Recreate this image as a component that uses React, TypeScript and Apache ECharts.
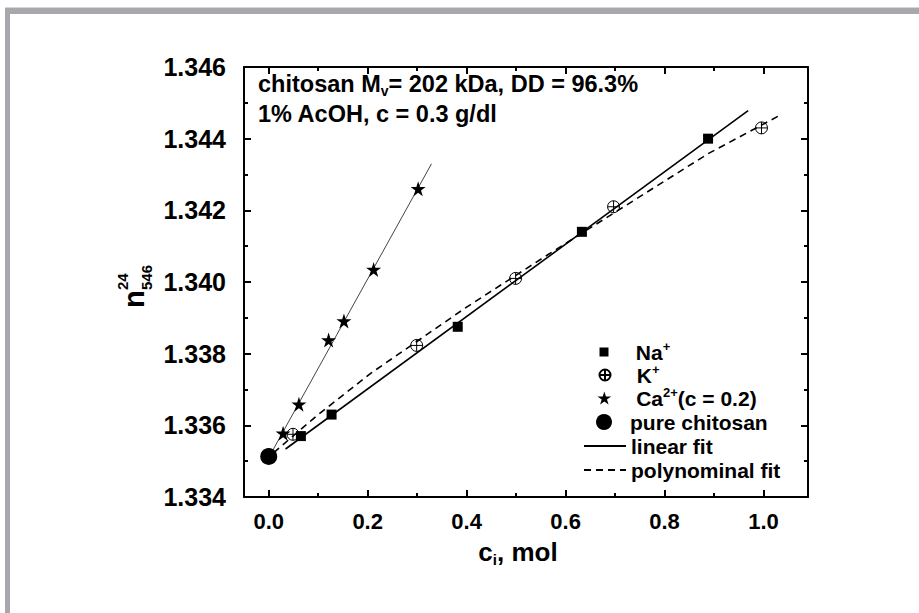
import React, { useEffect, useRef } from 'react';
import * as echarts from 'echarts';

const FONT = "'Liberation Sans', Arial, Helvetica, sans-serif";

// ---- data ----
const naX = [0.065, 0.127, 0.382, 0.633, 0.888];
const naY = [1.3357, 1.3363, 1.33875, 1.3414, 1.344];
const kX = [0.049, 0.299, 0.499, 0.697, 0.996];
const kY = [1.33575, 1.33823, 1.3401, 1.3421, 1.3443];
const caX = [0.029, 0.061, 0.121, 0.152, 0.212, 0.302];
const caY = [1.33578, 1.33659, 1.33838, 1.33891, 1.34035, 1.3426];
const pureX = [0];
const pureY = [1.33513];
const linearFitX = [0.034, 0.969];
const linearFitY = [1.33534, 1.34478];
const caFitX = [0.006, 0.329];
const caFitY = [1.33525, 1.3433];
const polyFitX = [0.01, 0.1, 0.206, 0.4, 0.564, 0.697, 0.888, 1.03];
const polyFitY = [1.33524, 1.3363, 1.33745, 1.3393, 1.34076, 1.34192, 1.34358, 1.34463];

const xMin = -0.05;
const xMax = 1.09;
const yMin = 1.334;
const yMax = 1.346;
const xMajorTicks = [0, 0.2, 0.4, 0.6, 0.8, 1.0];
const xMinorTicks = [0.1, 0.3, 0.5, 0.7, 0.9];
const yMajorTicks = [1.334, 1.336, 1.338, 1.34, 1.342, 1.344, 1.346];
const yMinorTicks = [1.335, 1.337, 1.339, 1.341, 1.343, 1.345];

const zip = (xs: number[], ys: number[]) => xs.map((x, i) => [x, ys[i]]);

const SQUARE = 'path://M0,0L10,0L10,10L0,10Z';
const CIRCLE_PLUS = 'path://M10,0A10,10,0,1,1,10,20A10,10,0,1,1,10,0ZM10,0L10,20M0,10L20,10';
const STAR = 'path://M50,0L61.8,36.2L100,36.2L69.1,58.8L80.9,95.1L50,72.7L19.1,95.1L30.9,58.8L0,36.2L38.2,36.2Z';

const legendNames = {
  na: 'Na+',
  k: 'K+',
  ca: 'Ca2+',
  pure: 'pure chitosan',
  lin: 'linear fit',
  poly: 'polynominal fit',
};
const legendRich: Record<string, string> = {
  'Na+': ' {t|Na}{s|+}',
  'K+': ' {t|K}{s|+}',
  'Ca2+': ' {t|Ca}{s|2+}{t|(c = 0.2)}',
  'pure chitosan': '{t|pure chitosan}',
  'linear fit': '{t|linear fit}',
  'polynominal fit': '{t|polynominal fit}',
};

export default function App() {
  const ref = useRef<HTMLDivElement>(null);
  useEffect(() => {
    const chart = echarts.init(ref.current!, null, { renderer: 'svg' });
    const tickFont = { color: '#000', fontFamily: FONT, fontWeight: 'bold' as const };
    const axisLine = { show: true, onZero: false, lineStyle: { color: '#000', width: 2 } };
    const noLine = { show: false, onZero: false };
    const tick = (values: number[], len: number) => ({
      show: true,
      inside: true,
      length: len,
      customValues: values,
      lineStyle: { color: '#000', width: 2 },
    });
    const xBase = { type: 'value' as const, min: xMin, max: xMax, splitLine: { show: false } };
    const yBase = { type: 'value' as const, min: yMin, max: yMax, splitLine: { show: false } };

    const legendText = {
      color: '#000',
      fontFamily: FONT,
      fontWeight: 'bold' as const,
      fontSize: 21,
      lineHeight: 24,
      rich: {
        t: { color: '#000', fontFamily: FONT, fontWeight: 'bold', fontSize: 21, lineHeight: 24 },
        s: { color: '#000', fontFamily: FONT, fontWeight: 'bold', fontSize: 13, lineHeight: 10, verticalAlign: 'top' },
      },
    };
    // symbol icons are centred in a 42px box; their legend box starts at the icon
    const ICON_CENTER = 604;
    const mkLegend = (name: string, top: number, itemHeight: number, isLine = false) => ({
      data: [name],
      left: isLine ? 583 : ICON_CENTER - itemHeight / 2,
      top,
      orient: 'vertical',
      itemWidth: 42,
      itemHeight,
      padding: 0,
      selectedMode: false,
      symbolKeepAspect: true,
      formatter: (n: string) => legendRich[n],
      textStyle: legendText,
      ...(isLine ? { itemStyle: { opacity: 0 } } : {}),
    });

    const annoRich = {
      a: { color: '#000', fontFamily: FONT, fontWeight: 'bold', fontSize: 23.5, lineHeight: 28 },
      s: { color: '#000', fontFamily: FONT, fontWeight: 'bold', fontSize: 14, lineHeight: 12, verticalAlign: 'bottom' },
    };
    const plainText = { fill: '#000', fontFamily: FONT, fontWeight: 'bold', textAlign: 'left', textVerticalAlign: 'middle', align: 'left', verticalAlign: 'middle' };

    chart.setOption({
      animation: false,
      backgroundColor: '#fff',
      textStyle: { fontFamily: FONT },
      grid: { left: 244, right: 111, top: 67, bottom: 116, containLabel: false, outerBoundsMode: 'none' },
      xAxis: [
        {
          ...xBase,
          position: 'bottom',
          axisLine,
          axisTick: tick(xMajorTicks, 7),
          axisLabel: { ...tickFont, fontSize: 22, margin: 13, customValues: xMajorTicks, formatter: (v: number) => v.toFixed(1) },
          name: '{a|c}{b|i}{a|, mol}',
          nameLocation: 'middle',
          nameGap: 40,
          nameTextStyle: {
            padding: [0, 16, 0, 0],
            rich: {
              a: { color: '#000', fontFamily: FONT, fontWeight: 'bold', fontSize: 26, lineHeight: 30 },
              b: { color: '#000', fontFamily: FONT, fontWeight: 'bold', fontSize: 15, lineHeight: 12, verticalAlign: 'bottom' },
            },
          },
        },
        { ...xBase, position: 'bottom', axisLine: noLine, axisTick: tick(xMinorTicks, 4), axisLabel: { show: false } },
        { ...xBase, position: 'top', axisLine, axisTick: tick(xMajorTicks, 7), axisLabel: { show: false } },
        { ...xBase, position: 'top', axisLine: noLine, axisTick: tick(xMinorTicks, 4), axisLabel: { show: false } },
      ],
      yAxis: [
        {
          ...yBase,
          position: 'left',
          axisLine,
          axisTick: tick(yMajorTicks, 7),
          axisLabel: { ...tickFont, fontSize: 25, margin: 18, customValues: yMajorTicks, formatter: (v: number) => v.toFixed(3) },
        },
        { ...yBase, position: 'left', axisLine: noLine, axisTick: tick(yMinorTicks, 4), axisLabel: { show: false } },
        { ...yBase, position: 'right', axisLine, axisTick: tick(yMajorTicks, 7), axisLabel: { show: false } },
        { ...yBase, position: 'right', axisLine: noLine, axisTick: tick(yMinorTicks, 4), axisLabel: { show: false } },
      ],
      legend: [
        mkLegend(legendNames.na, 340, 9),
        mkLegend(legendNames.k, 363, 11),
        mkLegend(legendNames.ca, 386, 13),
        mkLegend(legendNames.pure, 410, 16),
        mkLegend(legendNames.lin, 434, 10, true),
        mkLegend(legendNames.poly, 458, 10, true),
      ],
      series: [
        {
          name: 'Ca fit',
          type: 'line',
          data: zip(caFitX, caFitY),
          symbol: 'none',
          lineStyle: { color: '#444', width: 1 },
          z: 1,
        },
        {
          name: legendNames.lin,
          type: 'line',
          data: zip(linearFitX, linearFitY),
          symbol: 'none',
          lineStyle: { color: '#000', width: 1.6 },
          itemStyle: { color: '#000' },
          z: 1,
        },
        {
          name: legendNames.poly,
          type: 'line',
          data: zip(polyFitX, polyFitY),
          symbol: 'none',
          lineStyle: { color: '#000', width: 1.6, type: [7, 5] },
          itemStyle: { color: '#000' },
          z: 1,
        },
        {
          name: legendNames.na,
          type: 'scatter',
          data: zip(naX, naY),
          symbol: SQUARE,
          symbolSize: 10,
          itemStyle: { color: '#000', opacity: 1 },
          z: 3,
        },
        {
          name: legendNames.k,
          type: 'scatter',
          data: zip(kX, kY),
          symbol: CIRCLE_PLUS,
          symbolSize: 12,
          itemStyle: { color: 'rgba(255,255,255,0)', borderColor: '#000', borderWidth: 1, opacity: 1 },
          z: 3,
        },
        {
          name: legendNames.ca,
          type: 'scatter',
          data: zip(caX, caY),
          symbol: STAR,
          symbolSize: 15,
          itemStyle: { color: '#000', opacity: 1 },
          z: 3,
        },
        {
          name: legendNames.pure,
          type: 'scatter',
          data: zip(pureX, pureY),
          symbol: 'circle',
          symbolSize: 17,
          itemStyle: { color: '#000', opacity: 1 },
          z: 4,
        },
      ],
      graphic: [
        { type: 'rect', shape: { x: 5, y: 7, width: 914, height: 1 }, style: { fill: '#d6d6d8' }, silent: true },
        { type: 'rect', shape: { x: 5, y: 8, width: 914, height: 6 }, style: { fill: '#a8a8ac' }, silent: true },
        { type: 'rect', shape: { x: 5, y: 8, width: 5, height: 605 }, style: { fill: '#a8a8ac' }, silent: true },
        {
          type: 'text',
          x: 258,
          y: 84,
          style: { ...plainText, text: '{a|chitosan M}{s|v}{a|= 202 kDa, DD = 96.3%}', rich: annoRich },
        },
        {
          type: 'text',
          x: 258,
          y: 114,
          style: { ...plainText, text: '{a|1% AcOH, c = 0.3 g/dl}', rich: annoRich },
        },
        {
          type: 'group',
          x: 134,
          y: 308,
          rotation: Math.PI / 2,
          children: [
            { type: 'text', x: 0, y: 0, style: { ...plainText, text: 'n', fontSize: 29 } },
            { type: 'text', x: 18, y: -12, style: { ...plainText, text: '24', fontSize: 15 } },
            { type: 'text', x: 18, y: 12, style: { ...plainText, text: '546', fontSize: 15 } },
          ],
        },
      ],
    });
    return () => chart.dispose();
  }, []);
  return <div ref={ref} style={{ position: 'fixed', left: 0, top: 0, width: 919, height: 613 }} />;
}
